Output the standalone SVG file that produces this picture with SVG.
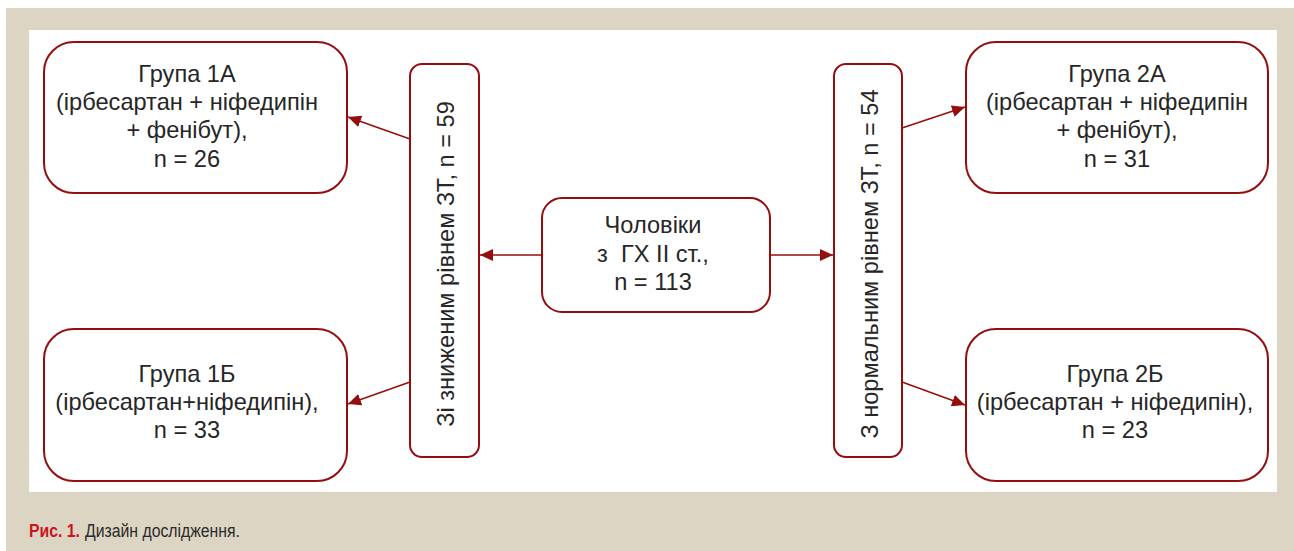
<svg xmlns="http://www.w3.org/2000/svg" width="1294" height="551" viewBox="0 0 1294 551">
<style>
.box{fill:#fff;stroke:#960d0d;stroke-width:2}
.t{font-family:"Liberation Sans",Arial,sans-serif;font-size:23.6px;fill:#262626;text-anchor:middle}
.c{stroke:#960d0d;stroke-width:1.5;fill:none;marker-end:url(#ah)}
.cap{font-family:"Liberation Sans",Arial,sans-serif;font-size:18px}
</style>
<defs>
<marker id="ah" markerUnits="userSpaceOnUse" markerWidth="14" markerHeight="12" refX="13" refY="6" orient="auto">
<path d="M0,0 L13,6 L0,12 z" fill="#960d0d"/>
</marker>
</defs>
<rect x="0" y="0" width="1294" height="551" fill="#fff"/>
<rect x="6" y="8" width="1288" height="543" fill="#ddd5c3"/>
<rect x="29" y="30" width="1248" height="462" fill="#fff"/>
<g id="connectors">
<line class="c" x1="542" y1="255" x2="480" y2="255"/>
<line class="c" x1="770" y1="255" x2="833" y2="255"/>
<line class="c" x1="410" y1="139" x2="348" y2="117"/>
<line class="c" x1="410" y1="382" x2="348" y2="404"/>
<line class="c" x1="902" y1="128" x2="965" y2="107"/>
<line class="c" x1="902" y1="382" x2="965" y2="405"/>
</g>
<g id="g1a">
<rect class="box" x="44" y="42" width="303" height="151" rx="30"/>
<text class="t" x="187" y="81.7">Група 1А</text>
<text class="t" x="187" y="110">(ірбесартан + ніфедипін</text>
<text class="t" x="187" y="138.3">+ фенібут),</text>
<text class="t" x="187" y="166.7">n = 26</text>
</g>
<g id="g1b">
<rect class="box" x="44" y="329" width="303" height="152" rx="30"/>
<text class="t" x="187" y="381.7">Група 1Б</text>
<text class="t" x="187" y="410">(ірбесартан+ніфедипін),</text>
<text class="t" x="187" y="438.3">n = 33</text>
</g>
<g id="left">
<rect class="box" x="410" y="64" width="69" height="393" rx="12"/>
<text class="t" transform="translate(453.5,264) rotate(-90)">Зі зниженим рівнем ЗТ, n = 59</text>
</g>
<g id="center">
<rect class="box" x="542" y="198" width="228" height="114" rx="20"/>
<text class="t" x="653" y="233.3">Чоловіки</text>
<text class="t" x="653" y="261.7" xml:space="preserve">з  ГХ II ст.,</text>
<text class="t" x="653" y="290">n = 113</text>
</g>
<g id="right">
<rect class="box" x="834" y="64" width="68" height="393" rx="12"/>
<text class="t" transform="translate(878,264) rotate(-90)">З нормальним рівнем ЗТ, n = 54</text>
</g>
<g id="g2a">
<rect class="box" x="966" y="42" width="302" height="151" rx="30"/>
<text class="t" x="1117" y="81.7">Група 2А</text>
<text class="t" x="1117" y="110">(ірбесартан + ніфедипін</text>
<text class="t" x="1117" y="138.3">+ фенібут),</text>
<text class="t" x="1117" y="166.7">n = 31</text>
</g>
<g id="g2b">
<rect class="box" x="966" y="329" width="302" height="152" rx="30"/>
<text class="t" x="1115" y="381.7">Група 2Б</text>
<text class="t" x="1115" y="410">(ірбесартан + ніфедипін),</text>
<text class="t" x="1115" y="438.3">n = 23</text>
</g>
<g id="caption">
<text class="cap" x="29" y="536.5" fill="#c8161d" font-weight="bold" textLength="51" lengthAdjust="spacingAndGlyphs">Рис. 1.</text>
<text class="cap" x="85" y="536.5" fill="#2a2a2a" textLength="155" lengthAdjust="spacingAndGlyphs">Дизайн дослідження.</text>
</g>
</svg>
